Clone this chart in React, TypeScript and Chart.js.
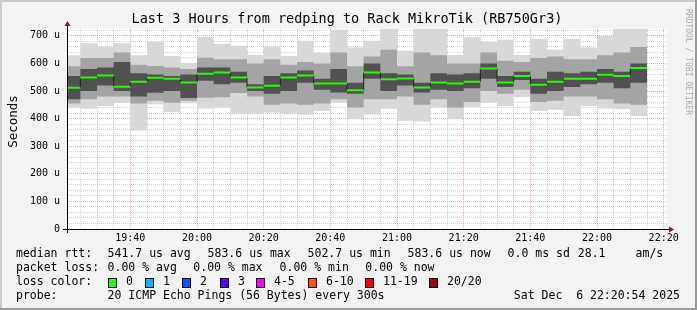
import React, { useEffect, useRef } from 'react';
import { Chart, registerables } from 'chart.js';

Chart.register(...registerables);

// ---------- text ----------
const TITLE = 'Last 3 Hours from redping to Rack MikroTik (RB750Gr3)';
const Y_TITLE = 'Seconds';
const WATERMARK = 'RRDTOOL / TOBI OETIKER';

// ---------- time axis ----------
const VIEW_START = '19:21';
const VIEW_END = '22:21';
const stepTimes = [
  '19:20', '19:25', '19:30', '19:35', '19:40', '19:45', '19:50', '19:55',
  '20:00', '20:05', '20:10', '20:15', '20:20', '20:25', '20:30', '20:35', '20:40', '20:45', '20:50', '20:55',
  '21:00', '21:05', '21:10', '21:15', '21:20', '21:25', '21:30', '21:35', '21:40', '21:45', '21:50', '21:55',
  '22:00', '22:05', '22:10',
];
const LAST_STEP_END = '22:15';
const xTickLabels = ['19:40', '20:00', '20:20', '20:40', '21:00', '21:20', '21:40', '22:00', '22:20'];
const X_MINOR_MINUTES = 5;

// ---------- value axis (microseconds) ----------
const Y_MAX = 725;
const yTickValues = [0, 100, 200, 300, 400, 500, 600, 700];
const yTickLabels = ['0', '100 u', '200 u', '300 u', '400 u', '500 u', '600 u', '700 u'];
const Y_MINOR_STEP = 20;

// ---------- series (us), one value per 5-minute step ----------
const medianRtt = [512, 549, 556, 516, 534, 548, 545, 531, 563, 567, 549, 513, 519, 549, 556, 527, 527, 502.7, 567, 543, 546, 513, 531, 527, 534, 582, 531, 555, 523, 534, 545, 545, 559, 555, 583.6];
const smokeMax = [630, 673, 661, 673, 630, 679, 627, 603, 697, 671, 664, 632, 661, 627, 682, 638, 722, 658, 682, 728, 646, 728, 725, 631, 695, 678, 686, 631, 690, 650, 690, 658, 700, 728, 728];
const smokeMidHi = [590, 620, 620, 640, 595, 591, 585, 580, 621, 615, 615, 600, 615, 595, 605, 600, 640, 590, 625, 650, 590, 640, 630, 600, 600, 640, 610, 605, 620, 625, 615, 615, 630, 640, 660];
const smokeCoreHi = [555, 580, 585, 605, 565, 560, 555, 560, 585, 585, 570, 525, 555, 565, 575, 545, 580, 530, 600, 565, 560, 530, 565, 560, 565, 600, 555, 570, 545, 570, 565, 570, 580, 570, 600];
const smokeCoreLo = [470, 500, 520, 500, 480, 494, 500, 475, 537, 525, 530, 500, 490, 500, 530, 505, 495, 490, 545, 500, 520, 495, 505, 500, 510, 545, 515, 540, 490, 500, 515, 525, 530, 510, 530];
const smokeMidLo = [455, 470, 480, 480, 455, 465, 458, 465, 476, 478, 493, 480, 450, 455, 450, 455, 470, 440, 470, 470, 480, 450, 470, 440, 460, 500, 490, 505, 460, 465, 480, 480, 470, 455, 450];
const smokeMin = [440, 436, 446, 458, 357, 452, 424, 456, 437, 440, 416, 416, 422, 416, 414, 428, 458, 398, 415, 436, 392, 390, 440, 398, 442, 458, 446, 478, 428, 432, 410, 446, 437, 435, 410];

// ---------- legend ----------
const legendRtt = ['541.7 us avg', '583.6 us max', '502.7 us min', '583.6 us now', '0.0 ms sd', '28.1', 'am/s'];
const legendRttX = [107.6, 207.6, 307.6, 407.6, 507.6, 577.8, 635.6];
const legendLoss = ['0.00 % avg', '0.00 % max', '0.00 % min', '0.00 % now'];
const legendLossX = [107.6, 193.3, 279.6, 365.3];
const lossColorLabels = ['0', '1', '2', '3', '4-5', '6-10', '11-19', '20/20'];
const lossColors = ['#26ff00', '#00b8ff', '#0059ff', '#5e00ff', '#ff00ff', '#ff5500', '#ff0000', '#a10000'];
const lossColorX = [108, 145.3, 182, 219.6, 256.4, 307.6, 365.3, 428.9];
const PROBE_TEXT = '20 ICMP Echo Pings (56 Bytes) every 300s';
const DATE_TEXT = 'Sat Dec  6 22:20:54 2025';

// ---------- helpers ----------
const toMin = (s: string) => {
  const [h, m] = s.split(':').map(Number);
  return h * 60 + m - 19 * 60;
};
const X_MIN = toMin(VIEW_START);
const X_MAX = toMin(VIEW_END);
const stepX = stepTimes.map(toMin);
const endX = toMin(LAST_STEP_END);
const xLabelByValue: Record<number, string> = {};
xTickLabels.forEach((l) => (xLabelByValue[toMin(l)] = l));
const xGrid: number[] = [];
for (let v = stepX[1]; v <= X_MAX; v += X_MINOR_MINUTES) xGrid.push(v);
const yGrid: number[] = [];
for (let v = 0; v <= Y_MAX; v += Y_MINOR_STEP) yGrid.push(v);
const yLabelByValue: Record<number, string> = {};
yTickValues.forEach((v, i) => (yLabelByValue[v] = yTickLabels[i]));

const stepped = (vals: number[]) => [
  ...vals.map((v, i) => ({ x: stepX[i], y: v })),
  { x: endX, y: vals[vals.length - 1] },
];
const greenSegments = () => {
  const pts: { x: number; y: number | null }[] = [];
  medianRtt.forEach((v, i) => {
    const e = i + 1 < stepX.length ? stepX[i + 1] : endX;
    pts.push({ x: stepX[i], y: v }, { x: e, y: v }, { x: e, y: null });
  });
  return pts;
};

const MONO = '"DejaVu Sans Mono", monospace';
const MAJOR = 'rgba(215, 60, 60, 0.42)';
const MINOR = 'rgba(140, 140, 140, 0.38)';

const base = { pointRadius: 0, borderWidth: 0, clip: 0 as any, stepped: 'before' as const, tension: 0 };

const decorPlugin = {
  id: 'decor',
  beforeDraw(chart: any) {
    const { ctx, chartArea: a, width, height } = chart;
    ctx.save();
    ctx.fillStyle = '#f3f3f3';
    ctx.fillRect(0, 0, width, height);
    ctx.fillStyle = '#cbcbcb';
    ctx.fillRect(0, 0, width, 2);
    ctx.fillRect(0, 0, 2, height);
    ctx.fillStyle = '#999999';
    ctx.fillRect(0, height - 2, width, 2);
    ctx.fillRect(width - 2, 0, 2, height);
    ctx.fillStyle = '#ffffff';
    ctx.fillRect(a.left, a.top, a.right - a.left, a.bottom - a.top);
    ctx.restore();
  },
  afterDraw(chart: any) {
    const { ctx, chartArea: a } = chart;
    ctx.save();
    // axes
    ctx.strokeStyle = '#000000';
    ctx.lineWidth = 1;
    ctx.beginPath();
    ctx.moveTo(a.left - 4, a.bottom + 0.5);
    ctx.lineTo(a.right + 4, a.bottom + 0.5);
    ctx.moveTo(a.left + 0.5, a.bottom + 4);
    ctx.lineTo(a.left + 0.5, a.top - 4);
    ctx.stroke();
    ctx.fillStyle = '#8b1a1a';
    ctx.beginPath();
    ctx.moveTo(a.right + 7, a.bottom + 0.5);
    ctx.lineTo(a.right + 2, a.bottom - 2.5);
    ctx.lineTo(a.right + 2, a.bottom + 3.5);
    ctx.closePath();
    ctx.fill();
    ctx.beginPath();
    ctx.moveTo(a.left + 0.5, a.top - 8);
    ctx.lineTo(a.left - 2.5, a.top - 3);
    ctx.lineTo(a.left + 3.5, a.top - 3);
    ctx.closePath();
    ctx.fill();

    ctx.fillStyle = '#000000';
    ctx.textBaseline = 'middle';
    // title
    ctx.font = `13.5px ${MONO}`;
    ctx.textAlign = 'center';
    ctx.fillText(TITLE, 347, 19.5);
    // vertical axis title
    ctx.save();
    ctx.font = `12.5px ${MONO}`;
    ctx.translate(14, 121.5);
    ctx.rotate(-Math.PI / 2);
    ctx.fillText(Y_TITLE, 0, 0);
    ctx.restore();
    // watermark
    ctx.save();
    ctx.fillStyle = '#a8a8a8';
    ctx.font = `8px ${MONO}`;
    ctx.translate(688, 62);
    ctx.rotate(Math.PI / 2);
    ctx.fillText(WATERMARK, 0, 0);
    ctx.restore();

    // legend
    ctx.font = `11.5px ${MONO}`;
    ctx.textAlign = 'left';
    const r1 = 254.5, r2 = 268.5, r3 = 282.5, r4 = 296.5;
    ctx.fillText('median rtt:', 16, r1);
    legendRtt.forEach((t, i) => ctx.fillText(t, legendRttX[i], r1));
    ctx.fillText('packet loss:', 16, r2);
    legendLoss.forEach((t, i) => ctx.fillText(t, legendLossX[i], r2));
    ctx.fillText('loss color:', 16, r3);
    lossColorLabels.forEach((t, i) => {
      const x = Math.round(lossColorX[i]);
      ctx.fillStyle = lossColors[i];
      ctx.fillRect(x, Math.round(r3 - 5), 9, 10);
      ctx.strokeStyle = '#000';
      ctx.strokeRect(x + 0.5, Math.round(r3 - 5) + 0.5, 8, 9);
      ctx.fillStyle = '#000';
      ctx.fillText(t, x + 18, r3);
    });
    ctx.fillText('probe:', 16, r4);
    ctx.fillText(PROBE_TEXT, 107.6, r4);
    ctx.textAlign = 'right';
    ctx.fillText(DATE_TEXT, 680, r4);
    ctx.restore();
  },
};

export default function App() {
  const ref = useRef<HTMLCanvasElement>(null);
  useEffect(() => {
    const canvas = ref.current!;
    const chart = new Chart(canvas, {
      type: 'line',
      data: {
        datasets: [
          { ...base, data: stepped(smokeMin), fill: false, order: 6 },
          { ...base, data: stepped(smokeMax), fill: { target: 0 }, backgroundColor: '#d8d8d8', order: 6 },
          { ...base, data: stepped(smokeMidLo), fill: false, order: 4 },
          { ...base, data: stepped(smokeMidHi), fill: { target: 2 }, backgroundColor: '#a4a4a4', order: 4 },
          { ...base, data: stepped(smokeCoreLo), fill: false, order: 2 },
          { ...base, data: stepped(smokeCoreHi), fill: { target: 4 }, backgroundColor: '#515151', order: 2 },
          { ...base, data: stepped(medianRtt), fill: false, borderWidth: 1, borderColor: '#202020', order: 1 },
          {
            ...base, stepped: false, data: greenSegments() as any, fill: false, spanGaps: false,
            borderWidth: 2, borderColor: '#26ff00', borderCapStyle: 'butt', order: 0,
          },
        ] as any,
      },
      options: {
        animation: false,
        responsive: false,
        devicePixelRatio: 1,
        events: [],
        layout: { padding: { top: 29, right: 30, left: 0, bottom: 0 } },
        plugins: { legend: { display: false }, tooltip: { enabled: false }, title: { display: false } },
        scales: {
          x: {
            type: 'linear',
            min: X_MIN,
            max: X_MAX,
            z: 1,
            afterBuildTicks: (s: any) => { s.ticks = xGrid.map((v) => ({ value: v })); },
            afterFit: (s: any) => { s.height = 81; },
            ticks: {
              autoSkip: false, maxRotation: 0, minRotation: 0, padding: 3, color: '#000',
              font: { family: MONO, size: 10 },
              callback: (v: any) => xLabelByValue[v] ?? '',
            },
            grid: {
              drawTicks: false, lineWidth: 1,
              color: (c: any) => (c.tick && xLabelByValue[c.tick.value] !== undefined ? MAJOR : MINOR),
            },
            border: { display: false, dash: [1, 1] },
          },
          y: {
            type: 'linear',
            min: 0,
            max: Y_MAX,
            z: 1,
            afterBuildTicks: (s: any) => { s.ticks = yGrid.map((v) => ({ value: v })); },
            afterFit: (s: any) => { s.width = 67; },
            ticks: {
              autoSkip: false, padding: 7, color: '#000',
              font: { family: MONO, size: 10 },
              callback: (v: any) => yLabelByValue[v] ?? '',
            },
            grid: {
              drawTicks: false, lineWidth: 1,
              color: (c: any) => (c.tick && yLabelByValue[c.tick.value] !== undefined ? MAJOR : MINOR),
            },
            border: { display: false, dash: [1, 1] },
          },
        },
      } as any,
      plugins: [decorPlugin],
    });
    return () => chart.destroy();
  }, []);
  return (
    <div style={{ position: 'fixed', left: 0, top: 0, width: 697, height: 310 }}>
      <canvas ref={ref} width={697} height={310} style={{ display: 'block', width: 697, height: 310 }} />
    </div>
  );
}
